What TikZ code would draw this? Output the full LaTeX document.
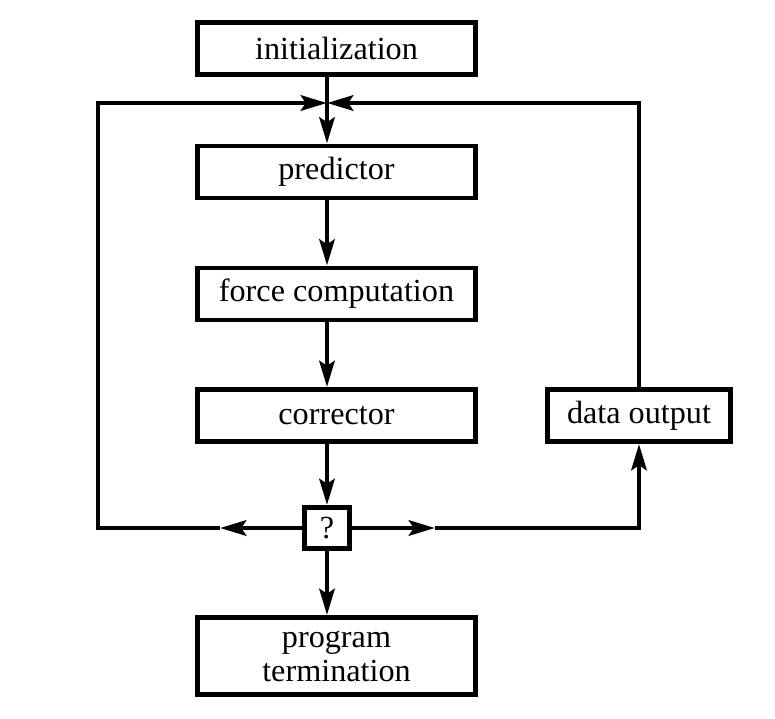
\documentclass[tikz,border=0pt]{standalone}
\usepackage{fontspec}
\setmainfont{Liberation Serif}
\usetikzlibrary{arrows.meta}
\begin{document}
\begin{tikzpicture}[x=0.025cm, y=-0.025cm,
    box/.style={rectangle, draw, line width=3.5pt, minimum width=6.95cm, minimum height=1.3cm, align=center, inner sep=0pt, font=\fontsize{22.9}{24.2}\selectfont},
    line/.style={line width=3.5pt},
    arrow/.style={line, -{Stealth[length=0.65cm, width=0.38cm, inset=0.12cm]}}
]
\useasboundingbox (0,0) rectangle (775,718);

% Boxes
\node[box] (init) at (336.5,48.5) {initialization};
\node[box] (pred) at (336.5,172) {predictor};
\node[box] (force) at (336.5,294) {force computation};
\node[box] (corr) at (336.5,415.5) {corrector};
\node[box, minimum width=4.575cm] (output) at (639,415.5) {data output};
\node[box, minimum width=1.125cm, minimum height=1.025cm] (test) at (327,528) {?};
\node[box, minimum height=1.925cm] (term) at (336.5,656) {program\\termination};

% Main chain
\coordinate (merge) at (327,103);
\draw[line] (init.south -| test) -- (merge);
\draw[arrow] (merge) -- (pred.north -| test);
\draw[arrow] (pred.south -| test) -- (force.north -| test);
\draw[arrow] (force.south -| test) -- (corr.north -| test);
\draw[arrow] (corr.south -| test) -- (test.north);
\draw[arrow] (test.south) -- (term.north -| test);

% Loop back (left)
\coordinate (leftmark) at (220,528);
\coordinate (topleft) at (98,103);
\draw[arrow] (test.west) -- (leftmark);
\draw[arrow] (leftmark) -| (topleft) -- (merge);

% Loop via data output (right)
\coordinate (rightmark) at (435,528);
\draw[arrow] (test.east) -- (rightmark);
\draw[arrow] (rightmark) -| (output.south);
\draw[arrow] (output.north) |- (merge);

\end{tikzpicture}
\end{document}
